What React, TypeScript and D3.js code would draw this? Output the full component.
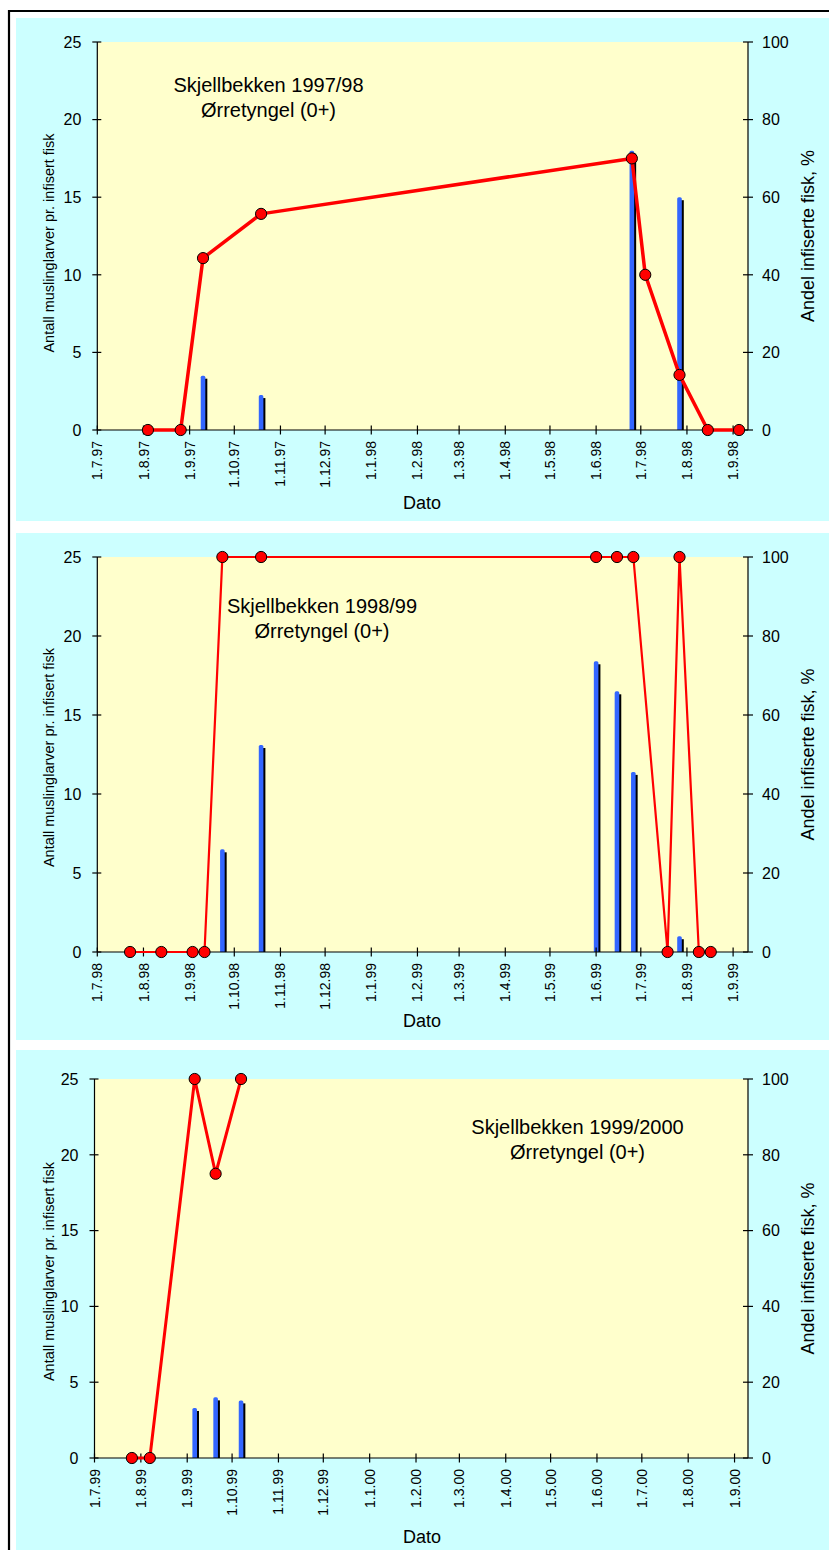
import React from "react";
import * as d3 from "d3";

// ---------- DATA ----------
const leftTicks = [0, 5, 10, 15, 20, 25];
const rightTicks = [0, 20, 40, 60, 80, 100];
const leftTitle = "Antall muslinglarver pr. infisert fisk";
const rightTitle = "Andel infiserte fisk, %";
const xTitle = "Dato";

// Panel 1
const axisRange1 = ["1997-07-01", "1998-09-11"];
const title1 = ["Skjellbekken 1997/98", "Ørretyngel (0+)"];
const lineDates1 = ["1997-08-04", "1997-08-26", "1997-09-10", "1997-10-19", "1998-06-25", "1998-07-04", "1998-07-27", "1998-08-15", "1998-09-05"];
const linePct1 = [0, 0, 44.3, 55.7, 70, 40, 14.2, 0, 0];
const barDates1 = ["1997-09-10", "1997-10-19", "1998-06-25", "1998-07-27"];
const barCounts1 = [3.5, 2.25, 18, 15];

// Panel 2
const axisRange2 = ["1998-07-01", "1999-09-11"];
const title2 = ["Skjellbekken 1998/99", "Ørretyngel (0+)"];
const lineDates2 = ["1998-07-23", "1998-08-13", "1998-09-03", "1998-09-11", "1998-09-23", "1998-10-19", "1999-06-01", "1999-06-15", "1999-06-26", "1999-07-19", "1999-07-27", "1999-08-09", "1999-08-17"];
const linePct2 = [0, 0, 0, 0, 100, 100, 100, 100, 100, 0, 100, 0, 0];
const barDates2 = ["1998-09-23", "1998-10-19", "1999-06-01", "1999-06-15", "1999-06-26", "1999-07-27"];
const barCounts2 = [6.5, 13.1, 18.4, 16.5, 11.4, 1.0];

// Panel 3
const axisRange3 = ["1999-07-01", "2000-09-10"];
const title3 = ["Skjellbekken 1999/2000", "Ørretyngel (0+)"];
const lineDates3 = ["1999-07-26", "1999-08-07", "1999-09-06", "1999-09-20", "1999-10-07"];
const linePct3 = [0, 0, 100, 75, 100];
const barDates3 = ["1999-09-06", "1999-09-20", "1999-10-07"];
const barCounts3 = [3.3, 4.0, 3.8];

// ---------- HELPERS ----------
const parse = d3.utcParse("%Y-%m-%d");
const fmt = (d: Date) =>
  `${d.getUTCDate()}.${d.getUTCMonth() + 1}.${String(d.getUTCFullYear()).slice(2)}`;
const FONT = "'Liberation Sans', Arial, Helvetica, sans-serif";
const CYAN = "#CCFFFF";
const YELLOW = "#FFFFCC";
const BLUE = "#3366FF";
const RED = "#FF0000";

type PanelProps = {
  bgTop: number;
  bgBottom: number;
  left: number;
  right: number;
  top: number;
  bottom: number;
  range: string[];
  title: string[];
  titleX: number;
  titleY: number;
  lineDates: string[];
  linePct: number[];
  barDates: string[];
  barCounts: number[];
  lineWidth: number;
  datoY: number;
  leftTitleShift: number;
};

function Panel(p: PanelProps) {
  const x = d3
    .scaleUtc()
    .domain([parse(p.range[0])!, parse(p.range[1])!])
    .range([p.left, p.right]);
  const yL = d3.scaleLinear().domain([0, 25]).range([p.bottom, p.top]);
  const yR = d3.scaleLinear().domain([0, 100]).range([p.bottom, p.top]);
  const ticks = d3.utcMonth.range(parse(p.range[0])!, d3.utcDay.offset(parse(p.range[1])!, 1));
  const pts = p.lineDates.map((d, i) => [x(parse(d)!), yR(p.linePct[i])] as [number, number]);
  const line = d3.line()(pts) || "";
  const bw = 4.6;
  const r = 1.6;
  const midY = (p.top + p.bottom) / 2;
  return (
    <g>
      <rect x={16} y={p.bgTop} width={829 - 16} height={p.bgBottom - p.bgTop} fill={CYAN} />
      <rect x={p.left} y={p.top} width={p.right - p.left} height={p.bottom - p.top} fill={YELLOW} />
      {/* bars */}
      {p.barDates.map((d, i) => {
        const cx = x(parse(d)!);
        const t = yL(p.barCounts[i]);
        const x0 = cx - bw / 2;
        const x1 = cx + bw / 2;
        const path = `M${x0},${p.bottom} L${x0},${t + r} Q${x0},${t} ${x0 + r},${t} L${x1 - r},${t} Q${x1},${t} ${x1},${t + r} L${x1},${p.bottom} Z`;
        return (
          <g key={i}>
            <rect x={x0 + 2} y={t + 3} width={bw} height={Math.max(0, p.bottom - t - 3)} fill="#000" />
            <path d={path} fill={BLUE} />
          </g>
        );
      })}
      {/* axes */}
      <line x1={p.left} x2={p.right} y1={p.bottom} y2={p.bottom} stroke="#000" strokeWidth={1.2} />
      <line x1={p.left} x2={p.left} y1={p.top} y2={p.bottom} stroke="#000" strokeWidth={1.2} />
      <line x1={p.right} x2={p.right} y1={p.top} y2={p.bottom} stroke="#000" strokeWidth={1.2} />
      {leftTicks.map((v) => (
        <g key={"l" + v}>
          <line x1={p.left - 5} x2={p.left + 4} y1={yL(v)} y2={yL(v)} stroke="#000" strokeWidth={1.2} />
          <text x={p.left - 16} y={yL(v)} dy="0.36em" textAnchor="end" fontSize={16} fontFamily={FONT} fill="#000">
            {v}
          </text>
        </g>
      ))}
      {rightTicks.map((v) => (
        <g key={"r" + v}>
          <line x1={p.right - 5} x2={p.right + 5} y1={yR(v)} y2={yR(v)} stroke="#000" strokeWidth={1.2} />
          <text x={p.right + 14} y={yR(v)} dy="0.36em" textAnchor="start" fontSize={16} fontFamily={FONT} fill="#000">
            {v}
          </text>
        </g>
      ))}
      {ticks.map((t, i) => (
        <g key={"x" + i}>
          <line x1={x(t)} x2={x(t)} y1={p.bottom - 4.5} y2={p.bottom + 4.5} stroke="#000" strokeWidth={1.2} />
          <text
            transform={`translate(${x(t)},${p.bottom + 11}) rotate(-90)`}
            dy="0.36em"
            textAnchor="end"
            fontSize={14}
            fontFamily={FONT}
            fill="#000"
          >
            {fmt(t)}
          </text>
        </g>
      ))}
      {/* line + markers */}
      <path d={line} fill="none" stroke={RED} strokeWidth={p.lineWidth} strokeLinejoin="round" />
      {pts.map((pt, i) => (
        <circle key={"c" + i} cx={pt[0]} cy={pt[1]} r={5.6} fill={RED} stroke="#000" strokeWidth={1} />
      ))}
      {/* titles */}
      <text x={p.titleX} y={p.titleY} textAnchor="middle" fontSize={20} fontFamily={FONT} fill="#000">
        {p.title[0]}
      </text>
      <text x={p.titleX} y={p.titleY + 25} textAnchor="middle" fontSize={20} fontFamily={FONT} fill="#000">
        {p.title[1]}
      </text>
      <text
        transform={`translate(49,${midY + p.leftTitleShift}) rotate(-90)`}
        dy="0.36em"
        textAnchor="middle"
        fontSize={14.5}
        fontFamily={FONT}
        fill="#000"
      >
        {leftTitle}
      </text>
      <text
        transform={`translate(808,${midY}) rotate(-90)`}
        dy="0.36em"
        textAnchor="middle"
        fontSize={18}
        fontFamily={FONT}
        fill="#000"
      >
        {rightTitle}
      </text>
      <text x={422} y={p.datoY} textAnchor="middle" fontSize={18} fontFamily={FONT} fill="#000">
        {xTitle}
      </text>
    </g>
  );
}

export default function App() {
  return (
    <svg
      width={829}
      height={1550}
      style={{ position: "absolute", left: 0, top: 0, background: "#fff" }}
    >
      <Panel
        bgTop={18} bgBottom={521}
        left={97.3} right={748} top={42} bottom={430}
        range={axisRange1} title={title1} titleX={268.5} titleY={92}
        lineDates={lineDates1} linePct={linePct1} barDates={barDates1} barCounts={barCounts1}
        lineWidth={3.5} datoY={509} leftTitleShift={7}
      />
      <Panel
        bgTop={533} bgBottom={1040}
        left={97.3} right={748} top={557} bottom={952}
        range={axisRange2} title={title2} titleX={322} titleY={613}
        lineDates={lineDates2} linePct={linePct2} barDates={barDates2} barCounts={barCounts2}
        lineWidth={2.2} datoY={1027} leftTitleShift={3}
      />
      <Panel
        bgTop={1050} bgBottom={1550}
        left={94.5} right={748} top={1079} bottom={1458}
        range={axisRange3} title={title3} titleX={577.5} titleY={1134}
        lineDates={lineDates3} linePct={linePct3} barDates={barDates3} barCounts={barCounts3}
        lineWidth={3} datoY={1543} leftTitleShift={3}
      />
      <line x1={9} x2={9} y1={10} y2={1550} stroke="#000" strokeWidth={2.2} />
      <line x1={8} x2={829} y1={11} y2={11} stroke="#000" strokeWidth={2.2} />
    </svg>
  );
}
